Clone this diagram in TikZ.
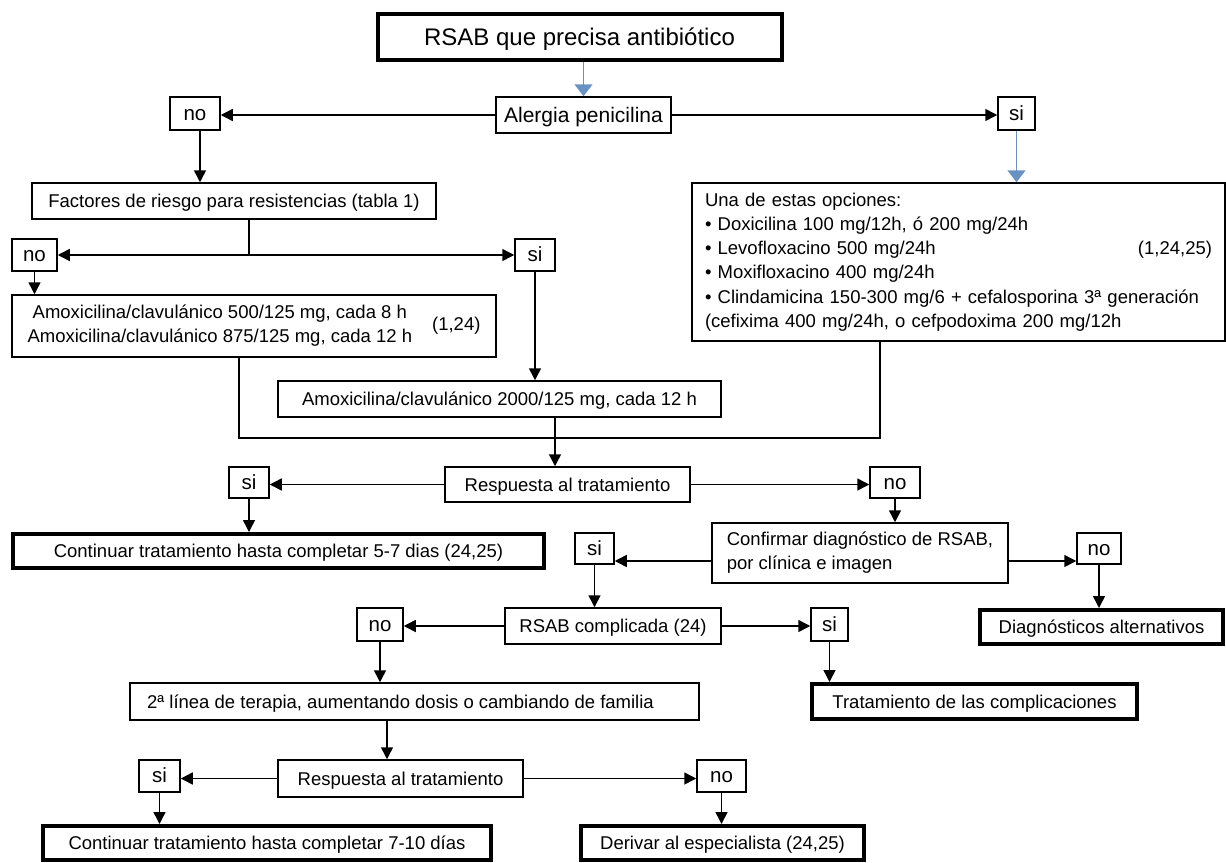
\documentclass[tikz,border=0pt]{standalone}
\usepackage{fontspec}
\setmainfont{Liberation Sans}
\usepackage{xcolor}
\definecolor{rsblue}{RGB}{104,146,196}
\usetikzlibrary{arrows.meta, calc}

\begin{document}
\begin{tikzpicture}[x=0.5pt, y=-0.5pt, line width=0.75pt,
  mbox/.style={draw, inner sep=0pt, font=\fontsize{9.25}{12}\selectfont},
  box/.style={mbox, text height=6.6pt, text depth=0pt},
  endbox/.style={box, line width=2pt},
  yn/.style={box, font=\fontsize{10.25}{12}\selectfont, text height=6.5pt},
  arr/.style={-{Triangle[length=6pt, width=6pt]}},
  barr/.style={-{Triangle[length=6pt, width=9pt]}, rsblue}]

\useasboundingbox (0,0) rectangle (1226,862);

% === Start ===
\node[endbox, minimum width=202pt, minimum height=23pt, font=\fontsize{12}{14}\selectfont,
      text height=8.6pt] (title) at (579.5,36.5) {RSAB que precisa antibiótico};
\node[box, minimum width=87.5pt, minimum height=18pt, font=\fontsize{10.5}{12}\selectfont,
      text height=7.5pt] (alergia) at (583.5,115) {Alergia penicilina};
\node[yn, minimum width=25pt, minimum height=16.5pt] (no1) at (195,113.5) {no};
\node[yn, minimum width=18.5pt, minimum height=16.5pt] (si1) at (1016.5,113.5) {si};

% === No allergy branch ===
\node[box, minimum width=202pt, minimum height=18pt] (factores) at (234,201)
  {Factores de riesgo para resistencias (tabla 1)};
\node[yn, minimum width=22.5pt, minimum height=16pt] (no2) at (34.5,255) {no};
\node[yn, minimum width=20pt, minimum height=16pt] (si2) at (535,255) {si};
\node[mbox, minimum width=242pt, minimum height=31pt] (amox1) at (254,326)
  {\begin{tabular}{@{}c@{}}Amoxicilina/clavulánico 500/125 mg, cada 8 h\\
   Amoxicilina/clavulánico 875/125 mg, cada 12 h\end{tabular}\hspace{10pt}(1,24)};
\node[box, minimum width=221.5pt, minimum height=18pt] (amox2) at (499.5,399)
  {Amoxicilina/clavulánico 2000/125 mg, cada 12 h};

% === Allergy branch ===
\node[mbox, minimum width=266.5pt, minimum height=79pt, text width=253.5pt, inner xsep=6.5pt,
      align=left, font=\fontsize{9.25}{12.15}\selectfont] (opciones) at (958.5,262)
  {Una de estas opciones:\\
   • Doxicilina 100 mg/12h, ó 200 mg/24h\\
   • Levofloxacino 500 mg/24h\hspace{0pt plus 1filll}(1,24,25)\hspace*{6.5pt}\\
   • Moxifloxacino 400 mg/24h\\
   • Clindamicina 150-300 mg/6 + cefalosporina 3ª generación\\
   (cefixima 400 mg/24h, o cefpodoxima 200 mg/12h};

% === Response ===
\node[box, minimum width=122.5pt, minimum height=17.5pt] (resp1) at (567.5,484.5)
  {Respuesta al tratamiento};
\node[yn, minimum width=20pt, minimum height=15.5pt] (si3) at (249,482.5) {si};
\node[yn, minimum width=25pt, minimum height=15.5pt] (no3) at (895,482.5) {no};
\node[endbox, minimum width=265.5pt, minimum height=17pt] (cont1) at (278.5,551)
  {Continuar tratamiento hasta completar 5-7 dias (24,25)};
\node[mbox, minimum width=148pt, minimum height=30pt, align=left] (confirm) at (860,553)
  {Confirmar diagnóstico de RSAB,\\por clínica e imagen};
\node[yn, minimum width=19.5pt, minimum height=15.5pt] (si4) at (594.5,548.5) {si};
\node[yn, minimum width=22pt, minimum height=15.5pt] (no4) at (1099,548.5) {no};

% === Complicated ===
\node[box, minimum width=108pt, minimum height=18pt] (compl) at (613,626)
  {RSAB complicada (24)};
\node[yn, minimum width=23pt, minimum height=16.5pt] (no5) at (380,624.5) {no};
\node[yn, minimum width=18.5pt, minimum height=16.5pt] (si5) at (829.5,624.5) {si};
\node[endbox, minimum width=121.5pt, minimum height=17pt] (diag) at (1101.5,627)
  {Diagnósticos alternativos};
\node[box, minimum width=284.5pt, minimum height=18.5pt] (linea2) at (414.5,701.5)
  {2ª línea de terapia, aumentando dosis o cambiando de familia\hspace*{14pt}};
\node[endbox, minimum width=162.5pt, minimum height=17.5pt] (tratcomp) at (974.5,701.5)
  {Tratamiento de las complicaciones};

% === Second response ===
\node[box, minimum width=122.5pt, minimum height=18.5pt] (resp2) at (400.5,778.5)
  {Respuesta al tratamiento};
\node[yn, minimum width=20.5pt, minimum height=16pt] (si6) at (159.5,776) {si};
\node[yn, minimum width=24.5pt, minimum height=16pt] (no6) at (721.5,776) {no};
\node[endbox, minimum width=224pt, minimum height=17pt] (cont2) at (267,843)
  {Continuar tratamiento hasta completar 7-10 días};
\node[endbox, minimum width=141.5pt, minimum height=17pt] (deriv) at (722.5,843)
  {Derivar al especialista (24,25)};

% === Connectors ===
\draw[barr] (title.south -| alergia.north) -- (alergia.north);
\draw[arr] (alergia.west) -- (alergia.west -| no1.east);
\draw[arr] (alergia.east) -- (alergia.east -| si1.west);
\coordinate (n1s) at ($(no1.south)+(5,0)$);
\draw[arr] (n1s) -- (n1s |- factores.north);
\draw[barr] (si1.south) -- (si1.south |- opciones.north);

% risk split
\coordinate (rk) at (249,255);
\draw (factores.south -| rk) -- (rk);
\draw[arr] (rk) -- (no2);
\draw[arr] (rk) -- (si2);
\draw[arr] (no2.south) -- (no2.south |- amox1.north);
\draw[arr] (si2.south) -- (si2.south |- amox2.north);

% merge into response
\coordinate (mL) at (239,438);
\coordinate (mC) at (555,438);
\coordinate (mR) at (880,438);
\draw (amox1.south -| mL) -- (mL) -- (mR) -- (opciones.south -| mR);
\draw (amox2.south -| mC) -- (mC);
\draw[arr] (mC) -- (resp1.north -| mC);

\draw[arr] (resp1.west) -- (resp1.west -| si3.east);
\draw[arr] (resp1.east) -- (resp1.east -| no3.west);
\draw[arr] (si3.south) -- (si3.south |- cont1.north);
\draw[arr] (no3.south) -- (no3.south |- confirm.north);
\coordinate (cw) at ($(confirm.west)+(0,8)$);
\coordinate (ce) at ($(confirm.east)+(0,8)$);
\draw[arr] (cw) -- (cw -| si4.east);
\draw[arr] (ce) -- (ce -| no4.west);
\draw[arr] (si4.south) -- (si4.south |- compl.north);
\draw[arr] (no4.south) -- (no4.south |- diag.north);
\draw[arr] (compl.west) -- (compl.west -| no5.east);
\draw[arr] (compl.east) -- (compl.east -| si5.west);
\draw[arr] (no5.south) -- (no5.south |- linea2.north);
\draw[arr] (si5.south) -- (si5.south |- tratcomp.north);
\coordinate (r2n) at ($(resp2.north)+(-13.5,0)$);
\draw[arr] (r2n |- linea2.south) -- (r2n);
\draw[arr] (resp2.west) -- (resp2.west -| si6.east);
\draw[arr] (resp2.east) -- (resp2.east -| no6.west);
\draw[arr] (si6.south) -- (si6.south |- cont2.north);
\draw[arr] (no6.south) -- (no6.south |- deriv.north);

\end{tikzpicture}
\end{document}
